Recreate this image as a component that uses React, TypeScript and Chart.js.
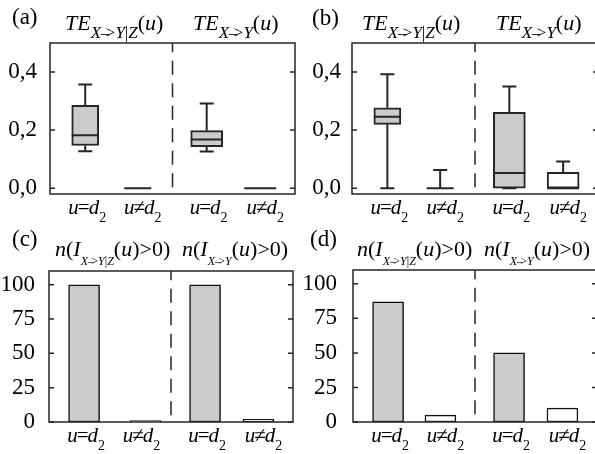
import React, { useEffect, useRef } from "react";
import { Chart, registerables } from "chart.js";

Chart.register(...registerables);

const FONT = '"Liberation Serif", "Times New Roman", serif';

// ---------------- data ----------------
const categories = ["u=d2", "u≠d2", "u=d2", "u≠d2"];
const categoryX = [0.69, 1.72, 3.07, 4.12];
const categoryXc = [0.69, 1.9, 3.07, 4.12];
const dividerX = 2.4;
const xMin = 0;
const xMax = 4.8;

const topSubs = ["X->Y|Z", "X->Y"];
const panelLetters = ["(a)", "(b)", "(c)", "(d)"];

// box plot statistics, per category
const aMin = [0.127, 0, 0.126, 0];
const aQ1 = [0.147, 0, 0.143, 0];
const aMedian = [0.182, 0, 0.168, 0];
const aQ3 = [0.285, 0, 0.198, 0];
const aMax = [0.357, 0, 0.292, 0];

const bMin = [0, 0, 0, 0];
const bQ1 = [0.22, 0, 0, 0];
const bMedian = [0.246, 0, 0.052, 0];
const bQ3 = [0.277, 0, 0.261, 0.055];
const bMax = [0.392, 0.063, 0.35, 0.092];

const cCounts = [100, 1, 100, 2];
const dCounts = [87, 5, 50, 10];

const boxTicks = [0, 0.2, 0.4];
const countTicks = [0, 25, 50, 75, 100];

// ---------------- styles ----------------
const GREY = "#cbcbcb";
const INK = "#262626";
const BOX_W = [27, 27, 32, 32];
const CAP_W = 14;
const BAR_W = 31;

type Run = { t: string; size: number; italic?: boolean; dy?: number; dx?: number };

function fontOf(r: Run) {
  return `${r.italic ? "italic " : ""}${r.size}px ${FONT}`;
}

function drawRich(ctx: CanvasRenderingContext2D, runs: Run[], x: number, y: number, align: "left" | "center") {
  ctx.save();
  let w = 0;
  for (const r of runs) {
    ctx.font = fontOf(r);
    w += (r.dx || 0) + ctx.measureText(r.t).width;
  }
  let cx = align === "center" ? x - w / 2 : x;
  ctx.fillStyle = "#000";
  ctx.textBaseline = "alphabetic";
  ctx.textAlign = "left";
  for (const r of runs) {
    ctx.font = fontOf(r);
    cx += r.dx || 0;
    ctx.fillText(r.t, cx, y + (r.dy || 0));
    cx += ctx.measureText(r.t).width;
  }
  ctx.restore();
}

function subRuns(sub: string, size: number, dy: number): Run[] {
  const runs: Run[] = [];
  let i = 0;
  while (i < sub.length) {
    if (sub.startsWith("->", i)) {
      runs.push({ t: "\u2013", size, dy });
      runs.push({ t: ">", size, dy, dx: -0.22 * size });
      i += 2;
    } else if (sub[i] === "|") {
      runs.push({ t: "|", size, dy });
      i++;
    } else {
      runs.push({ t: sub[i], size, italic: true, dy });
      i++;
    }
  }
  return runs;
}

function teTitle(sub: string): Run[] {
  return [
    { t: "TE", size: 22, italic: true },
    ...subRuns(sub, 17, 8),
    { t: "(", size: 22 },
    { t: "u", size: 22, italic: true },
    { t: ")", size: 22 },
  ];
}

function nTitle(sub: string): Run[] {
  return [
    { t: "n", size: 22, italic: true },
    { t: "(", size: 22 },
    { t: "I", size: 22, italic: true },
    ...subRuns(sub, 12, 9),
    { t: "(", size: 22 },
    { t: "u", size: 22, italic: true },
    { t: ")>0)", size: 22 },
  ];
}

function labelRuns(s: string): Run[] {
  return [
    { t: s[0], size: 21, italic: true },
    { t: s[1], size: 21, dx: -1 },
    { t: s[2], size: 21, italic: true, dx: -1 },
    { t: s.slice(3), size: 14, dy: 8 },
  ];
}

type Area = { left: number; top: number; right: number; bottom: number };

type PanelSpec = {
  letter: string;
  letterX: number;
  letterY: number;
  titles: Run[][];
  titleX: number[];
  titleY: number;
  area: Area;
  tickPad: number;
};

function makeFramePlugin(spec: PanelSpec) {
  return {
    id: "frame",
    afterDraw(chart: any) {
      const ctx: CanvasRenderingContext2D = chart.ctx;
      const a = chart.chartArea;
      const xs = chart.scales.x;
      const ys = chart.scales.y;
      ctx.save();
      ctx.strokeStyle = INK;
      ctx.lineWidth = 1.5;
      ctx.strokeRect(a.left, a.top, a.right - a.left, a.bottom - a.top);
      ctx.beginPath();
      for (const t of ys.ticks) {
        const y = ys.getPixelForValue(t.value);
        ctx.moveTo(a.left, y);
        ctx.lineTo(a.left + 5, y);
        ctx.moveTo(a.right - 5, y);
        ctx.lineTo(a.right, y);
      }
      ctx.stroke();
      const dx = xs.getPixelForValue(dividerX);
      ctx.setLineDash([14, 8.5]);
      ctx.lineDashOffset = 4.7;
      ctx.beginPath();
      ctx.moveTo(dx, a.top);
      ctx.lineTo(dx, a.bottom);
      ctx.stroke();
      ctx.restore();

      drawRich(ctx, [{ t: spec.letter, size: 23 }], spec.letterX, spec.letterY, "left");
      spec.titles.forEach((runs, i) => drawRich(ctx, runs, spec.titleX[i], spec.titleY, "left"));
      categories.forEach((c, i) => {
        const x = xs.getPixelForValue(categoryX[i]) + (i % 2 === 1 ? 5 : 2);
        drawRich(ctx, labelRuns(c), x, a.bottom + 20, "center");
      });
    },
  };
}

function baseOptions(spec: PanelSpec, W: number, H: number, yMin: number, yMax: number, ticks: number[], fmt: (v: number) => string) {
  const a = spec.area;
  return {
    animation: false,
    responsive: false,
    events: [],
    layout: { padding: { left: 0, top: a.top, right: W - a.right, bottom: H - a.bottom } },
    datasets: { bar: { grouped: false } },
    scales: {
      x: { type: "linear", min: xMin, max: xMax, offset: false, display: false },
      y: {
        type: "linear",
        min: yMin,
        max: yMax,
        afterFit: (s: any) => {
          s.width = a.left;
        },
        afterBuildTicks: (s: any) => {
          s.ticks = ticks.map((v) => ({ value: v }));
        },
        grid: { display: false },
        border: { display: false },
        ticks: {
          color: "#000",
          padding: spec.tickPad,
          font: { family: FONT, size: 23 },
          callback: (v: any) => fmt(Number(v)),
        },
      },
    },
    plugins: { legend: { display: false }, tooltip: { enabled: false } },
  };
}

function boxConfig(spec: PanelSpec, W: number, H: number, mn: number[], q1: number[], med: number[], q3: number[], mx: number[], fills: string[]) {
  const a = spec.area;
  const pxPerUnit = (a.right - a.left) / (xMax - xMin);
  const boxDatasets = categoryX.map((x, i) => ({
    type: "bar",
    data: q3[i] > q1[i] ? [{ x, y: [q1[i], q3[i]] }] : [],
    barThickness: BOX_W[i],
    backgroundColor: fills[i],
    borderColor: INK,
    borderWidth: 2,
    borderSkipped: false,
    order: 1,
  }));
  const pts: any[] = [];
  categoryX.forEach((x, i) => {
    const h = BOX_W[i] / 2 / pxPerUnit;
    const c = CAP_W / 2 / pxPerUnit;
    pts.push({ x, y: mn[i] }, { x, y: q1[i] }, { x, y: null });
    pts.push({ x, y: q3[i] }, { x, y: mx[i] }, { x, y: null });
    pts.push({ x: x - c, y: mn[i] }, { x: x + c, y: mn[i] }, { x, y: null });
    pts.push({ x: x - c, y: mx[i] }, { x: x + c, y: mx[i] }, { x, y: null });
    pts.push({ x: x - h, y: med[i] }, { x: x + h, y: med[i] }, { x, y: null });
  });
  const lines = {
    type: "line",
    data: pts,
    borderColor: INK,
    borderWidth: 2,
    pointRadius: 0,
    tension: 0,
    spanGaps: false,
    fill: false,
    order: 0,
  };
  return {
    type: "bar",
    data: { datasets: [...boxDatasets, lines] },
    options: baseOptions(spec, W, H, -0.02, 0.5, boxTicks, (v) => v.toFixed(1).replace(".", ",")),
    plugins: [makeFramePlugin(spec)],
  };
}

function barConfig(spec: PanelSpec, W: number, H: number, xs: number[], counts: number[]) {
  return {
    type: "bar",
    data: {
      datasets: [
        {
          data: xs.map((x, i) => ({ x, y: counts[i] })),
          barThickness: BAR_W,
          backgroundColor: [GREY, "#ffffff", GREY, "#ffffff"],
          borderColor: "#111",
          borderWidth: 1.5,
          borderSkipped: false,
        },
      ],
    },
    options: baseOptions(spec, W, H, 0, 110, countTicks, (v) => String(v)),
    plugins: [makeFramePlugin(spec)],
  };
}

const W = 300;
const H = 227;

const specA: PanelSpec = {
  letter: panelLetters[0], letterX: 12, letterY: 24,
  titles: topSubs.map(teTitle), titleX: [65, 193], titleY: 29.5,
  area: { left: 50, top: 43, right: 295, bottom: 194 }, tickPad: 5,
};
const specB: PanelSpec = {
  letter: panelLetters[1], letterX: 12, letterY: 25,
  titles: topSubs.map(teTitle), titleX: [62, 196], titleY: 29.5,
  area: { left: 52, top: 43, right: 298, bottom: 194 }, tickPad: 3,
};
const specC: PanelSpec = {
  letter: panelLetters[2], letterX: 12, letterY: 19,
  titles: topSubs.map(nTitle), titleX: [55, 182], titleY: 29,
  area: { left: 49, top: 44, right: 293, bottom: 195 }, tickPad: 6,
};
const specD: PanelSpec = {
  letter: panelLetters[3], letterX: 10, letterY: 19,
  titles: topSubs.map(nTitle), titleX: [57, 184], titleY: 29,
  area: { left: 53, top: 43, right: 297, bottom: 195 }, tickPad: 8,
};

function Panel({ left, top, make }: { left: number; top: number; make: () => any }) {
  const ref = useRef<HTMLCanvasElement>(null);
  useEffect(() => {
    if (!ref.current) return;
    const chart = new Chart(ref.current, make());
    return () => chart.destroy();
  }, []);
  return (
    <div style={{ position: "absolute", left, top, width: W, height: H }}>
      <canvas ref={ref} width={W} height={H} style={{ display: "block" }} />
    </div>
  );
}

export default function App() {
  return (
    <div style={{ position: "fixed", left: 0, top: 0, width: 595, height: 454, overflow: "hidden", background: "#fff" }}>
      <Panel left={0} top={0} make={() => boxConfig(specA, W, H, aMin, aQ1, aMedian, aQ3, aMax, [GREY, GREY, GREY, GREY])} />
      <Panel left={300} top={0} make={() => boxConfig(specB, W, H, bMin, bQ1, bMedian, bQ3, bMax, [GREY, GREY, GREY, "#ffffff"])} />
      <Panel left={0} top={227} make={() => barConfig(specC, W, H, categoryXc, cCounts)} />
      <Panel left={300} top={227} make={() => barConfig(specD, W, H, categoryX, dCounts)} />
    </div>
  );
}
